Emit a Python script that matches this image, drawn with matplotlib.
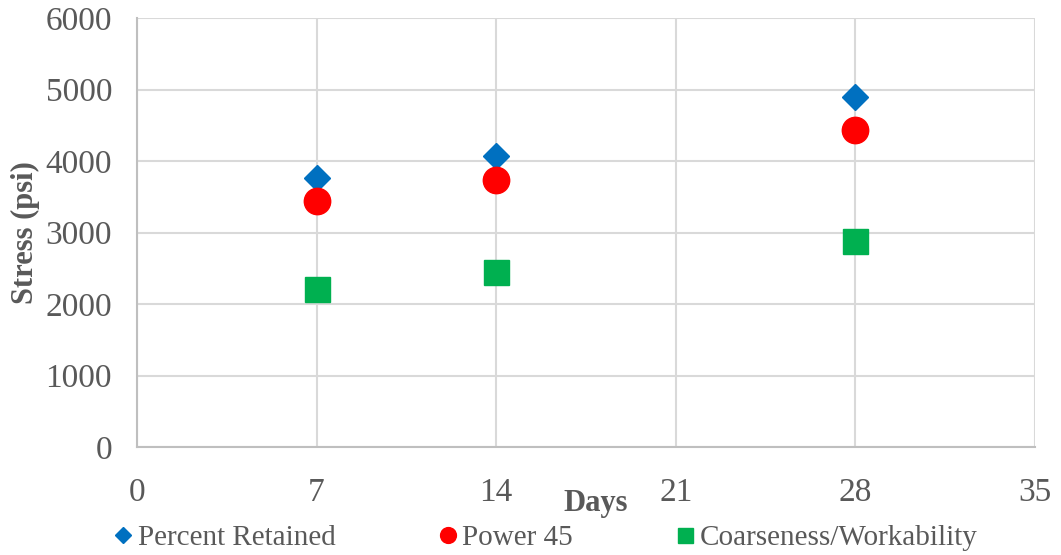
import matplotlib
matplotlib.use('Agg')
import matplotlib.pyplot as plt

# Data
days = [7, 14, 28]
percent_retained = [3760, 4070, 4895]
power_45 = [3440, 3735, 4435]
coarseness = [2210, 2450, 2880]

x_ticks = [0, 7, 14, 21, 28, 35]
y_ticks = [0, 1000, 2000, 3000, 4000, 5000, 6000]

plt.rcParams['font.family'] = ['Liberation Serif', 'DejaVu Serif']
text_color = '#595959'

fig = plt.figure(figsize=(10.61, 5.55), dpi=100)
ax = fig.add_axes([137 / 1061, 108 / 555, 898 / 1061, 429 / 555])

ax.plot(days, percent_retained, linestyle='none', marker='D', markersize=13.5,
        color='#0070C0', markeredgecolor='#0070C0', label='Percent Retained', zorder=3)
ax.plot(days, power_45, linestyle='none', marker='o', markersize=19,
        color='#FF0000', markeredgecolor='#FF0000', label='Power 45', zorder=3)
ax.plot(days, coarseness, linestyle='none', marker='s', markersize=18,
        color='#00B050', markeredgecolor='#00B050', label='Coarseness/Workability', zorder=3)

ax.set_xlim(0, 35)
ax.set_ylim(0, 6000)
ax.set_xticks(x_ticks)
ax.set_yticks(y_ticks)
ax.grid(True, color='#d9d9d9', linewidth=1.5, zorder=0)
ax.set_axisbelow(True)
for side in ['top', 'right']:
    ax.spines[side].set_visible(False)
for side in ['left', 'bottom']:
    ax.spines[side].set_color('#bfbfbf')
    ax.spines[side].set_linewidth(1.5)
ax.tick_params(length=0, labelsize=24, colors=text_color)
ax.tick_params(axis='x', pad=22)
ax.tick_params(axis='y', pad=18)

ax.set_xlabel('Days', fontsize=22, fontweight='bold', color=text_color)
ax.xaxis.set_label_coords((596 - 137) / 898, -(489 - 447) / 429)
ax.set_ylabel('Stress (psi)', fontsize=22, fontweight='bold', color=text_color)
ax.yaxis.set_label_coords(-(137 - 40) / 898, 0.5)

leg = fig.legend(loc='center', bbox_to_anchor=(546 / 1061, 1 - 538 / 555), ncol=3,
                 frameon=False, fontsize=21, handlelength=0.6, handletextpad=0.2,
                 columnspacing=3.55, markerscale=0.6)
for t in leg.get_texts():
    t.set_color(text_color)

fig.savefig('out.png', dpi=100)
